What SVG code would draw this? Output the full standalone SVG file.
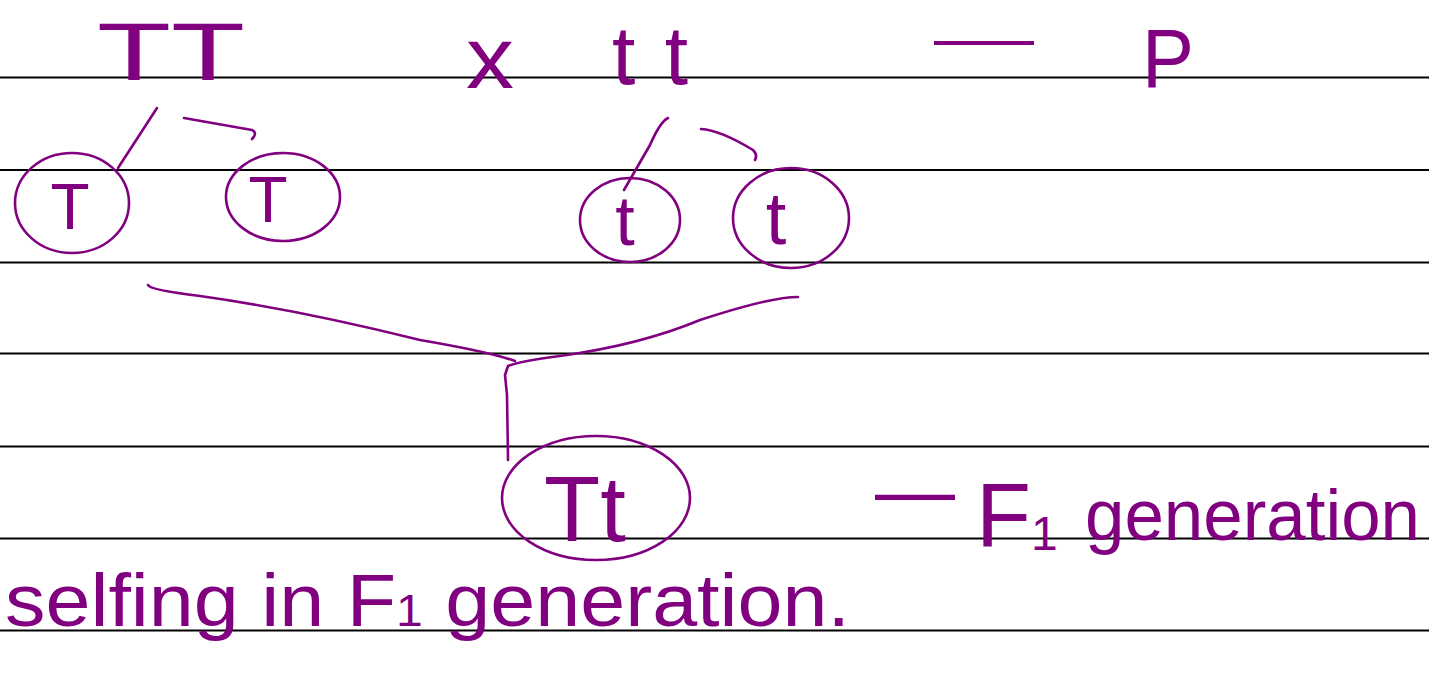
<svg xmlns="http://www.w3.org/2000/svg" width="1429" height="677" viewBox="0 0 1429 677">
<style>
.rule{stroke:#000;stroke-width:2.2}
.ink{fill:none;stroke:#800080;stroke-width:2.6;stroke-linecap:round;stroke-linejoin:round}
.t{fill:#800080;font-family:"Liberation Sans",Arial,sans-serif}
</style>
<rect width="1429" height="677" fill="#fff"/>
<g id="rules">
<line class="rule" x1="0" y1="77.5" x2="1429" y2="77.5"/>
<line class="rule" x1="0" y1="170" x2="1429" y2="170"/>
<line class="rule" x1="0" y1="262.5" x2="1429" y2="262.5"/>
<line class="rule" x1="0" y1="353.5" x2="1429" y2="353.5"/>
<line class="rule" x1="0" y1="446.5" x2="1429" y2="446.5"/>
<line class="rule" x1="0" y1="538.5" x2="1429" y2="538.5"/>
<line class="rule" x1="0" y1="630.5" x2="1429" y2="630.5"/>
</g>
<g id="parents">
<text class="t" x="97" y="80" font-size="82" textLength="148" lengthAdjust="spacingAndGlyphs">TT</text>
<text class="t" x="466" y="88" font-size="88" textLength="48" lengthAdjust="spacingAndGlyphs">x</text>
<text class="t" x="612" y="84" font-size="84" textLength="76" lengthAdjust="spacing">tt</text>
<text class="t" x="934" y="58" font-size="60" textLength="100" lengthAdjust="spacingAndGlyphs">—</text>
<text class="t" x="1142" y="87" font-size="84" textLength="52" lengthAdjust="spacingAndGlyphs">P</text>
</g>
<g id="gamete-T1">
<ellipse class="ink" cx="72" cy="203" rx="57" ry="50"/>
<text class="t" x="70" y="229" font-size="64" text-anchor="middle">T</text>
</g>
<g id="gamete-T2">
<ellipse class="ink" cx="283" cy="197" rx="57" ry="44"/>
<text class="t" x="268" y="222" font-size="64" text-anchor="middle">T</text>
</g>
<g id="gamete-t1">
<ellipse class="ink" cx="630" cy="220" rx="50" ry="42"/>
<text class="t" x="625" y="245" font-size="70" text-anchor="middle">t</text>
</g>
<g id="gamete-t2">
<ellipse class="ink" cx="791" cy="218" rx="58" ry="50"/>
<text class="t" x="776" y="244" font-size="74" text-anchor="middle">t</text>
</g>
<g id="f1-Tt">
<ellipse class="ink" cx="596" cy="498" rx="94" ry="62"/>
<text class="t" x="585" y="541" font-size="92" text-anchor="middle">Tt</text>
</g>
<g id="connectors">
<path class="ink" d="M157 108 L118 168"/>
<path class="ink" d="M184 118 L252 130 Q258 133 252 139"/>
<path class="ink" d="M668 118 Q660 122 650 145 L624 190"/>
<path class="ink" d="M701 129 Q720 130 753 150 Q758 155 755 160"/>
<path class="ink" d="M148 285 Q150 290 200 296 Q300 310 420 340 Q490 352 515 361"/>
<path class="ink" d="M798 297 Q770 297 700 320 Q640 345 560 356 Q520 361 508 366 L505 375 L507 395 L508 460"/>
</g>
<g id="f1-label">
<text class="t" x="875" y="518" font-size="80" textLength="80" lengthAdjust="spacingAndGlyphs">—</text>
<text class="t" x="976" y="546" font-size="90">F<tspan font-size="48" dy="4">1</tspan></text>
<text class="t" x="1085" y="540" font-size="72" textLength="335" lengthAdjust="spacingAndGlyphs">generation</text>
</g>
<g id="selfing-note">
<text class="t" x="5" y="626" font-size="74" textLength="845" lengthAdjust="spacingAndGlyphs">selfing in F<tspan font-size="44">1</tspan> generation.</text>
</g>
</svg>
